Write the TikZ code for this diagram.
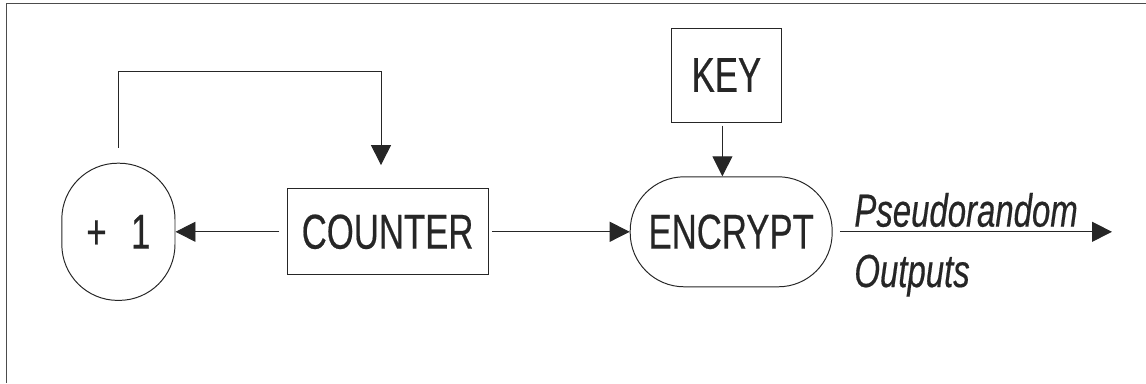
\documentclass[tikz,border=0pt]{standalone}
\usepackage{fontspec}
\newfontfamily\narrowsf[FakeStretch=0.71, FakeBold=0.4]{Liberation Sans}
\usetikzlibrary{arrows.meta, calc, positioning}
\tikzset{>={Triangle[length=0.5cm,width=0.5cm]}}
\tikzset{
	blk/.style={draw, inner sep=0pt, minimum width=#1},
	lbl/.style={font=\narrowsf\itshape\fontsize{33}{38}\selectfont, inner sep=0pt}
}

\begin{document}
\begin{tikzpicture}[font=\narrowsf\fontsize{34.8}{40}\selectfont, line width=0.7pt, color=black!85]
	\useasboundingbox (0,0) rectangle (28.65,9.575);
	\draw [black!70] (28.65,9.5) -- (0.15,9.5) -- (0.15,0);
	\node [blk=2.83cm, minimum height=3.43cm, rounded corners=1.4cm] (plus) at (2.96,3.78) {+\enspace 1};
	\node [blk=5.03cm, minimum height=2.15cm] (counter) at (9.69,3.78) {COUNTER};
	\node [blk=5.05cm, minimum height=2.75cm, rounded corners=1.35cm] (encrypt) at (18.28,3.78) {ENCRYPT};
	\node [blk=2.73cm, minimum height=2.35cm] (key) at (18.16,7.70) {KEY};
	\coordinate (loop) at (9.525,7.8);
	\coordinate (out) at (27.8,3.78);
	\draw [->, shorten <=0.38cm, shorten >=0.58cm] (plus.north) |- (loop) -- (loop |- counter.north);
	\draw [->, shorten <=0.18cm] (counter.west) -- (plus.east);
	\draw [->, shorten <=0.08cm] (counter.east) -- (encrypt.west);
	\draw [->, shorten <=0.08cm] ([xshift=-0.1cm]key.south) -- ([xshift=-0.1cm]key.south |- encrypt.north);
	\draw [->, shorten <=0.18cm] (encrypt.east) -- (out);
	\node [lbl, anchor=base west] (pseudo) at ($(encrypt.east)+(0.53,0.13)$) {Pseudorandom};
	\node [lbl, anchor=base west] (outputs) at ($(encrypt.east)+(0.53,-1.38)$) {Outputs};
\end{tikzpicture}
\end{document}
